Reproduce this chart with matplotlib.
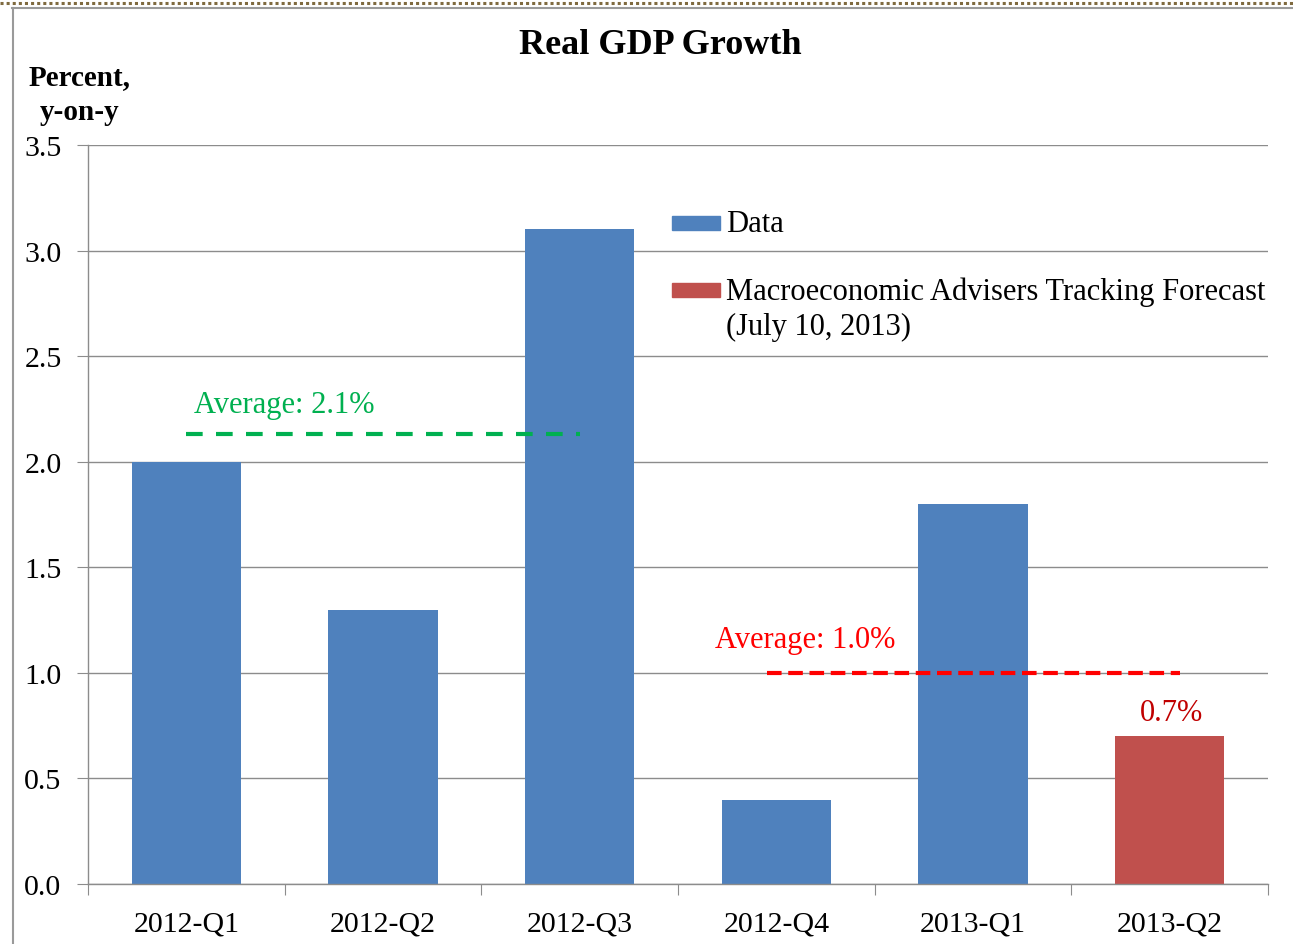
import matplotlib
matplotlib.use("Agg")
import matplotlib.pyplot as plt
from matplotlib.lines import Line2D
from matplotlib.patches import Rectangle

categories = ["2012-Q1", "2012-Q2", "2012-Q3", "2012-Q4", "2013-Q1", "2013-Q2"]
values = [2.0, 1.3, 3.1, 0.4, 1.8, 0.7]
is_forecast = [False, False, False, False, False, True]
avg1_value = 2.133
avg1_span = (0, 2)
avg2_value = 1.0
avg2_span = (2.95, 5.05)
yticks = [0.0, 0.5, 1.0, 1.5, 2.0, 2.5, 3.0, 3.5]

plt.rcParams['font.family'] = ['Liberation Serif', 'DejaVu Serif']

W, H = 1293, 945
fig = plt.figure(figsize=(W/100, H/100), dpi=100)
ax = fig.add_axes([88/W, 1-885/H, (1268-88)/W, (885-146)/H])

blue = "#4F81BD"
red = "#C0504D"
x = list(range(len(categories)))
colors = [red if f else blue for f in is_forecast]
ax.bar(x, values, width=0.555, color=colors, zorder=2)

ax.set_xlim(-0.5, len(categories)-0.5)
ax.set_ylim(0, 3.5)
ax.set_yticks(yticks)
ax.set_yticklabels([f"{v:.1f}" for v in yticks], fontsize=21.5)
ax.yaxis.grid(True, color="#8C8C8C", linewidth=1.0, zorder=0)
ax.set_axisbelow(True)

ax.set_xticks([i - 0.5 for i in range(len(categories)+1)])
ax.set_xticklabels([])
ax.set_xticks(x, minor=True)
ax.set_xticklabels(categories, minor=True, fontsize=21.5)
ax.tick_params(axis='x', which='major', length=8, color="#8C8C8C", direction='out')
ax.tick_params(axis='x', which='minor', length=0, pad=19)
ax.tick_params(axis='y', length=8, color="#8C8C8C", pad=11)
for s in ['top', 'right']:
    ax.spines[s].set_visible(False)
for s in ['left', 'bottom']:
    ax.spines[s].set_color("#8C8C8C")
    ax.spines[s].set_linewidth(1.0)

# averages
ax.plot(avg1_span, [avg1_value]*2, color="#00B050", linestyle=(0, (4, 3.2)), linewidth=3, zorder=3)
ax.text(0.04, 2.27, "Average: 2.1%", color="#00B050", fontsize=22, va='center', ha='left')
ax.plot(avg2_span, [avg2_value]*2, color="#FF0000", linestyle=(0, (3.5, 1.6)), linewidth=3, zorder=3)
ax.text(2.69, 1.156, "Average: 1.0%", color="#FF0000", fontsize=22, va='center', ha='left')
ax.text(5.01, 0.81, "0.7%", color="#C00000", fontsize=22, va='center', ha='center')

# legend (manual)
def px(xp, yp):
    return xp/W, 1-yp/H
fig.add_artist(Rectangle(px(672, 231), 48/W, 14/H, color=blue, transform=fig.transFigure))
fig.add_artist(Rectangle(px(672, 298), 48/W, 14/H, color=red, transform=fig.transFigure))
fig.text(*px(726, 225), "Data", fontsize=22, va='center', ha='left')
fig.text(*px(726, 292), "Macroeconomic Advisers Tracking Forecast", fontsize=22, va='center', ha='left')
fig.text(*px(726, 327), "(July 10, 2013)", fontsize=22, va='center', ha='left')

# titles
fig.text(*px(660, 46), "Real GDP Growth", fontsize=26, fontweight='bold', va='center', ha='center')
fig.text(*px(80, 78), "Percent,", fontsize=21, fontweight='bold', va='center', ha='center')
fig.text(*px(80, 113), "y-on-y", fontsize=21, fontweight='bold', va='center', ha='center')

# frame
fig.add_artist(Line2D([0, 1], [1-4/H]*2, color="#7F6A3F", linewidth=2.2, linestyle=(0, (1, 1)), transform=fig.transFigure))
fig.add_artist(Line2D([12/W, 1], [1-8.5/H]*2, color="#9A9A9A", linewidth=1.5, transform=fig.transFigure))
fig.add_artist(Line2D([12.5/W]*2, [1-8.5/H, 0], color="#9A9A9A", linewidth=1.5, transform=fig.transFigure))

fig.savefig("out.png", dpi=100)
